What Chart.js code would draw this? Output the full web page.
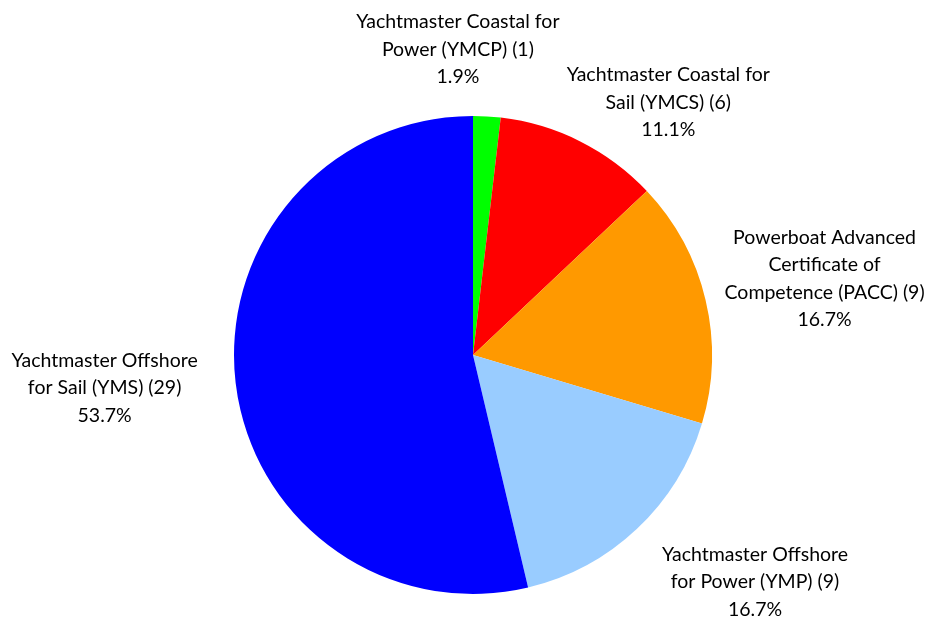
<!DOCTYPE html>
<html>
<head>
<meta charset="utf-8">
<script src="https://cdn.jsdelivr.net/npm/chart.js@4"></script>
<style>
  html, body { margin: 0; padding: 0; background: #fff; }
  #wrap { width: 942px; height: 626px; }
</style>
</head>
<body>
<div id="wrap"><canvas id="quals-chart"></canvas></div>
<script>
const CATEGORIES = [
  ['Yachtmaster Coastal for', 'Power (YMCP) (1)'],
  ['Yachtmaster Coastal for', 'Sail (YMCS) (6)'],
  ['Powerboat Advanced', 'Certificate of', 'Competence (PACC) (9)'],
  ['Yachtmaster Offshore', 'for Power (YMP) (9)'],
  ['Yachtmaster Offshore', 'for Sail (YMS) (29)']
];
const COUNTS = [1, 6, 9, 9, 29];

const SLICE_COLORS = ['#00ff00', '#ff0000', '#ff9900', '#99ccff', '#0000ff'];

// label box centre, relative to the point where the slice's middle meets the rim
const LABEL_NUDGE = [
  [-29, -67],
  [88, -39],
  [119, -21],
  [118, 53],
  [-131, 5]
];

const FONT = '19.5px Lato, "Open Sans", sans-serif';
const LINE_H = 27.5;

const outsideLabels = {
  id: 'outsideLabels',
  afterDatasetsDraw(chart) {
    const ctx = chart.ctx;
    const meta = chart.getDatasetMeta(0);
    const total = COUNTS.reduce((a, b) => a + b, 0);
    ctx.save();
    ctx.font = FONT;
    ctx.fillStyle = '#000';
    ctx.textAlign = 'center';
    ctx.textBaseline = 'middle';
    meta.data.forEach((arc, i) => {
      const mid = (arc.startAngle + arc.endAngle) / 2;
      const x = arc.x + Math.cos(mid) * arc.outerRadius + LABEL_NUDGE[i][0];
      const y = arc.y + Math.sin(mid) * arc.outerRadius + LABEL_NUDGE[i][1];
      const lines = CATEGORIES[i].concat([(COUNTS[i] / total * 100).toFixed(1) + '%']);
      const top = y - (lines.length - 1) * LINE_H / 2;
      lines.forEach((ln, j) => ctx.fillText(ln, x, top + j * LINE_H));
    });
    ctx.restore();
  }
};

function addQualsChart() {
  const ctx = document.getElementById('quals-chart');
  if (!ctx) {
    return;
  }
  new Chart(ctx, {
    type: 'pie',
    data: {
      labels: CATEGORIES,
      datasets: [{
        data: COUNTS,
        backgroundColor: SLICE_COLORS,
        borderWidth: 0
      }]
    },
    options: {
      responsive: true,
      maintainAspectRatio: false,
      animation: false,
      layout: {
        padding: { left: 234, right: 230, top: 116, bottom: 32 }
      },
      plugins: {
        legend: { display: false },
        tooltip: { enabled: false }
      }
    },
    plugins: [outsideLabels]
  });
}

addQualsChart();
</script>
</body>
</html>
